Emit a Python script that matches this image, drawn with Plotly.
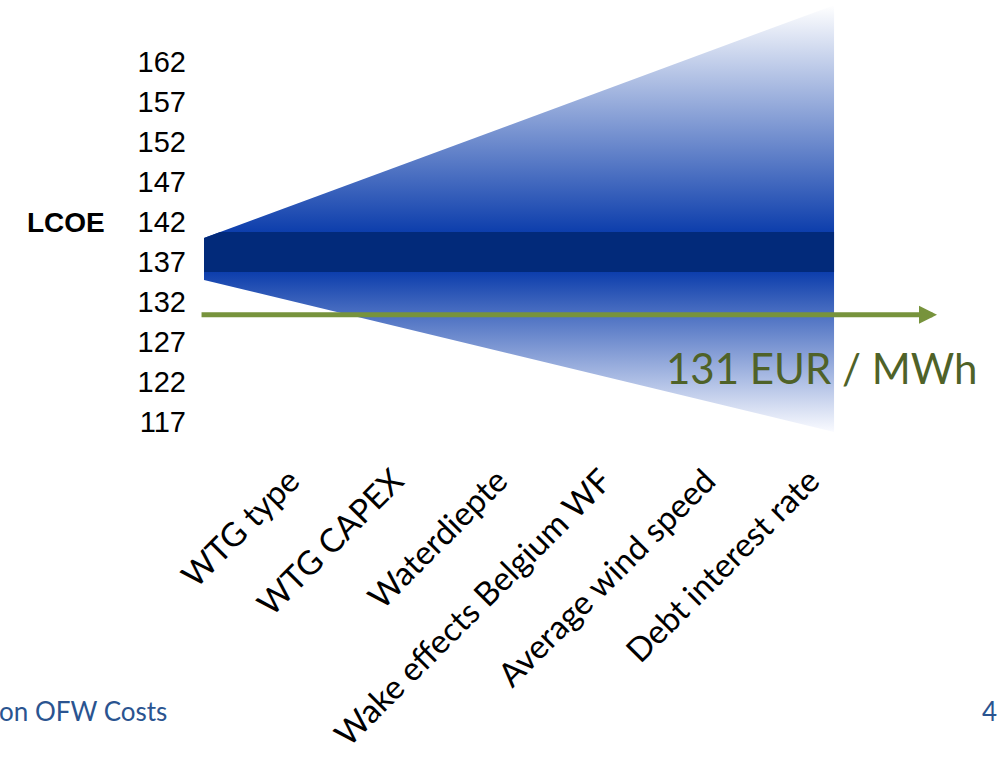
import plotly.graph_objects as go

# ---- data ----
categories = ["WTG type", "WTG CAPEX", "Waterdiepte", "Wake effects Belgium WF",
              "Average wind speed", "Debt interest rate"]
y_ticks = [117, 122, 127, 132, 137, 142, 147, 152, 157, 162]

cone_x = [-0.827, 5.231]          # start / end of the sensitivity cone (category units)
cone_top = [140.0, 169.1]         # upper LCOE bound at start / end
cone_bottom = [134.75, 115.75]    # lower LCOE bound at start / end
band = [135.75, 140.75]           # base-case LCOE band
target_value = 130.4              # target LCOE line
target_label = "131 EUR / MWh"
arrow_x = [-0.865, 6.221]

BLUE = "rgb(13,62,172)"
DARK = "rgb(2,42,122)"
GREEN = "#77933C"

fig = go.Figure()

# cone with vertical gradient
lo, hi = min(cone_bottom), max(cone_top)
p_lo = (band[0] - lo) / (hi - lo)
p_hi = (band[1] - lo) / (hi - lo)
fig.add_trace(go.Scatter(
    x=[cone_x[0], cone_x[1], cone_x[1], cone_x[0], cone_x[0]],
    y=[cone_top[0], cone_top[1], cone_bottom[1], cone_bottom[0], cone_top[0]],
    mode="lines", line=dict(width=0), fill="toself",
    fillgradient=dict(type="vertical", start=lo, stop=hi,
                      colorscale=[[0, "rgb(250,251,255)"], [p_lo, BLUE],
                                  [p_hi, BLUE], [1, "rgb(255,255,255)"]]),
    hoverinfo="skip", showlegend=False))

# dark band, clipped to the cone
def interp_x(v, y0, y1):
    t = (v - y0) / (y1 - y0)
    return cone_x[0] + t * (cone_x[1] - cone_x[0])

bx, by = [], []
if band[1] > cone_top[0]:
    bx += [cone_x[0], interp_x(band[1], cone_top[0], cone_top[1])]
    by += [cone_top[0], band[1]]
else:
    bx += [cone_x[0]]
    by += [band[1]]
bx += [cone_x[1], cone_x[1]]
by += [band[1], band[0]]
if band[0] < cone_bottom[0]:
    bx += [interp_x(band[0], cone_bottom[0], cone_bottom[1]), cone_x[0]]
    by += [band[0], cone_bottom[0]]
else:
    bx += [cone_x[0]]
    by += [band[0]]
bx.append(bx[0]); by.append(by[0])
fig.add_trace(go.Scatter(x=bx, y=by, mode="lines", line=dict(width=0),
                         fill="toself", fillcolor=DARK,
                         hoverinfo="skip", showlegend=False))

# target arrow
fig.add_annotation(x=arrow_x[1], y=target_value, ax=arrow_x[0], ay=target_value,
                   xref="x", yref="y", axref="x", ayref="y", text="",
                   showarrow=True, arrowhead=2, arrowsize=0.72, arrowwidth=5,
                   arrowcolor=GREEN)
fig.add_annotation(x=0.621, xref="paper", y=123.7, yref="y", text=target_label,
                   showarrow=False, xanchor="left", yanchor="middle",
                   font=dict(family="Lato", size=42, color="#4F6228"))

# LCOE label
fig.add_annotation(x=-0.117, xref="paper", y=142, yref="y", text="<b>LCOE</b>",
                   showarrow=False, xanchor="right", yanchor="middle",
                   font=dict(family="Liberation Sans", size=28, color="black"))

# footer
fig.add_annotation(x=-0.262, xref="paper", y=-0.58, yref="paper", text="on OFW Costs",
                   showarrow=False, xanchor="left", yanchor="middle",
                   font=dict(family="Lato", size=26, color="#2A5490"))
fig.add_annotation(x=1.052, xref="paper", y=-0.58, yref="paper", text="4",
                   showarrow=False, xanchor="center", yanchor="middle",
                   font=dict(family="Lato", size=26, color="#2A5490"))

fig.update_xaxes(range=[-0.9135, 6.346], tickmode="array",
                 tickvals=list(range(len(categories))), ticktext=categories,
                 tickangle=-45, showgrid=False, zeroline=False, showline=False,
                 ticks="", ticklabelstandoff=4,
                 tickfont=dict(family="Lato", size=33, color="black"))
fig.update_yaxes(range=[113.5, 169.75], tickmode="array", tickvals=y_ticks,
                 ticktext=[str(v) for v in y_ticks], showgrid=False,
                 zeroline=False, showline=False, ticks="", ticklabelstandoff=8,
                 tickfont=dict(family="Liberation Sans", size=29, color="black"))
fig.update_layout(width=1007, height=768, margin=dict(l=195, r=57, t=0, b=318),
                  paper_bgcolor="white", plot_bgcolor="white", showlegend=False)

fig.write_html("out.html")
